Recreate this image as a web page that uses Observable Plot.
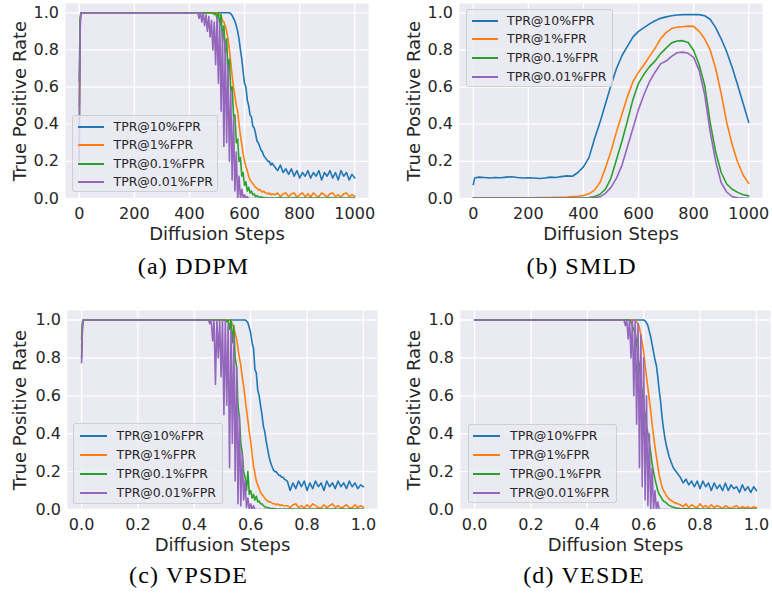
<!DOCTYPE html>
<html><head><meta charset="utf-8">
<script src="https://cdn.jsdelivr.net/npm/d3@7"></script>
<script src="https://cdn.jsdelivr.net/npm/@observablehq/plot@0.6"></script>
<style>
html,body{margin:0;padding:0;background:#fff;}
#root{position:relative;width:772px;height:595px;overflow:hidden;font-family:"DejaVu Sans",sans-serif;}
.legend{position:absolute;box-sizing:border-box;border:1px solid rgba(204,204,204,0.9);border-radius:3px;background:rgba(234,234,242,0.8);font:12.5px "DejaVu Sans",sans-serif;color:#262626;}
.legend .sw{position:absolute;height:2px;}
.legend .tx{position:absolute;height:18px;line-height:18px;white-space:nowrap;}
.caption{position:absolute;font-family:"Liberation Serif",serif;font-size:24px;letter-spacing:1.2px;color:#000;white-space:nowrap;transform:translateX(-50%);line-height:24px;}
</style></head><body><div id="root"></div><script>
// ---------- shared labels ----------
const seriesNames = ["TPR@10%FPR", "TPR@1%FPR", "TPR@0.1%FPR", "TPR@0.01%FPR"];
const seriesColors = ["#1f77b4", "#ff7f0e", "#2ca02c", "#9467bd"];
const yTicks = [0, 0.2, 0.4, 0.6, 0.8, 1.0];
const stepTicks = [0, 200, 400, 600, 800, 1000];
const tTicks = [0, 0.2, 0.4, 0.6, 0.8, 1.0];
const xLabel = "Diffusion Steps";
const yLabel = "True Positive Rate";
const captions = ["(a) DDPM", "(b) SMLD", "(c) VPSDE", "(d) VESDE"];

// ---------- (a) DDPM ----------
const ddpmSteps = [0,3,6,50,100,150,200,250,300,350,400,420,
430,435,440,445,450,455,460,465,470,475,
480,485,490,495,500,505,510,515,520,525,
530,535,540,545,550,555,560,565,570,575,
580,585,590,595,600,605,610,615,620,625,
630,635,640,645,650,655,660,665,670,675,
680,685,690,695,700,
710,720,730,740,750,760,770,780,790,800,
810,820,830,840,850,860,870,880,890,900,
910,920,930,940,950,960,970,980,990,1000];
const ddpm10 = [.63,.97,1,1,1,1,1,1,1,1,1,1,
1,1,1,1,1,1,1,1,1,1,
1,1,1,1,1,1,1,1,1,1,
1,1,1,1,.995,.985,.97,.955,.93,.9,
.86,.8,.75,.68,.62,.6,.53,.5,.45,.44,
.39,.38,.35,.31,.3,.28,.26,.25,.23,.22,
.21,.2,.2,.18,.19,
.17,.15,.18,.14,.16,.13,.16,.12,.15,.11,
.14,.12,.15,.11,.14,.12,.15,.1,.14,.12,
.15,.11,.14,.1,.15,.12,.14,.1,.13,.11];
const ddpm1 = [.5,.96,1,1,1,1,1,1,1,1,1,1,
1,1,1,1,1,1,1,1,1,1,
1,1,1,1,1,1,.99,.98,.96,.95,
.93,.9,.86,.8,.73,.66,.6,.55,.5,.47,
.4,.34,.29,.24,.2,.17,.15,.12,.1,.09,
.08,.07,.06,.055,.045,.05,.04,.035,.04,.03,
.03,.025,.03,.02,.025,
.02,.03,.01,.025,.03,.01,.025,.03,.008,.02,
.03,.01,.025,.008,.03,.015,.01,.03,.02,.008,
.025,.03,.01,.02,.008,.025,.03,.01,.02,.012];
const ddpm01 = [.4,.95,1,1,1,1,1,1,1,1,1,1,
1,1,1,1,1,1,1,1,1,1,
1,1,.99,1,.97,1,.93,.99,.85,.93,
.78,.86,.68,.75,.58,.6,.44,.45,.3,.32,
.2,.22,.12,.14,.07,.09,.04,.06,.03,.04,
.02,.025,.01,.015,.01,.005,.01,.005,.005,.003,
.004,.002,.003,.002,.002,
.003,.002,.004,.002,.003,.002,.003,.004,.002,.003,
.002,.003,.002,.004,.002,.003,.002,.003,.002,.003,
.004,.002,.003,.002,.003,.002,.003,.002,.003,.002];
const ddpm001 = [.2,.9,1,1,1,1,1,1,1,1,1,1,
1,.97,1,.95,1,.93,.99,.9,.98,.87,
.96,.8,.95,.72,.98,.62,.95,.47,.9,.28,
.85,.3,.72,.2,.58,.1,.44,.04,.25,0,
.12,0,.05,0,.02,0,.01,0,0,0,
0,0,0,0,0,0,0,0,0,0,
0,0,0,0,0,
0,0,0,0,0,0,0,0,0,0,
0,0,0,0,0,0,0,0,0,0,
0,0,0,0,0,0,0,0,0,0];

// ---------- (b) SMLD ----------
const smldSteps = [0,5,
20,40,60,80,100,120,140,160,180,200,
220,240,260,280,300,320,340,360,380,400,
420,440,460,480,500,520,540,560,580,600,
620,640,660,680,700,720,740,760,780,800,
820,840,860,880,900,920,940,960,980,1000];
const smld10 = [.075,.11,
.115,.113,.11,.113,.112,.115,.117,.113,.11,.112,
.11,.108,.11,.115,.113,.118,.122,.12,.14,.17,
.22,.32,.41,.51,.61,.7,.77,.82,.87,.9,
.92,.94,.957,.97,.978,.984,.988,.99,.99,.991,
.99,.984,.965,.92,.86,.79,.705,.61,.51,.41];
const smld1 = [.004,.004,
.004,.004,.004,.004,.004,.004,.004,.004,.004,.004,
.004,.005,.005,.005,.006,.007,.008,.01,.012,.016,
.025,.045,.086,.165,.255,.36,.455,.55,.63,.68,
.72,.765,.81,.86,.893,.915,.922,.925,.928,.927,
.9,.86,.8,.7,.565,.41,.29,.195,.125,.081];
const smld01 = [.002,.002,
.002,.002,.002,.002,.002,.002,.002,.002,.002,.002,
.002,.002,.002,.002,.002,.002,.002,.002,.002,.003,
.005,.01,.023,.05,.11,.21,.31,.42,.535,.62,
.67,.71,.74,.78,.81,.838,.848,.85,.84,.797,
.72,.61,.41,.25,.14,.078,.05,.033,.02,.014];
const smld001 = [.001,.001,
.001,.001,.001,.001,.001,.001,.001,.001,.001,.001,
.001,.001,.001,.001,.001,.001,.001,.001,.001,.001,
.001,.004,.009,.028,.06,.11,.18,.28,.38,.48,
.56,.63,.68,.725,.74,.765,.785,.788,.782,.76,
.69,.56,.36,.2,.085,.035,.01,.004,.002,.001];

// ---------- (c) VPSDE and (d) VESDE share the sampling grid ----------
const sdeT = [0,.003,.006,.05,.1,.15,.2,.25,.3,.35,.4,.42,
.43,.435,.44,.445,.45,.455,.46,.465,.47,.475,
.48,.485,.49,.495,.5,.505,.51,.515,.52,.525,
.53,.535,.54,.545,.55,.555,.56,.565,.57,.575,
.58,.585,.59,.595,.6,.605,.61,.615,.62,.625,
.63,.635,.64,.645,.65,.655,.66,.665,.67,.675,
.68,.685,.69,.695,.7,.705,.71,.715,.72,
.73,.74,.75,.76,.77,.78,.79,.8,.81,.82,
.83,.84,.85,.86,.87,.88,.89,.9,.91,.92,
.93,.94,.95,.96,.97,.98,.99,1];
const vpsde10 = [.9,.99,1,1,1,1,1,1,1,1,1,1,
1,1,1,1,1,1,1,1,1,1,
1,1,1,1,1,1,1,1,1,1,
1,1,1,1,1,1,1,1,1,1,
1,.995,.985,.96,.93,.88,.85,.74,.72,.63,
.6,.55,.5,.44,.41,.36,.32,.28,.25,.23,
.21,.2,.2,.19,.18,.18,.17,.17,.16,
.15,.1,.14,.11,.15,.12,.15,.1,.14,.11,
.15,.12,.14,.1,.15,.12,.14,.11,.15,.12,
.14,.11,.15,.12,.14,.11,.13,.12];
const vpsde1 = [.85,.98,1,1,1,1,1,1,1,1,1,1,
1,1,1,1,1,1,1,1,1,1,
1,1,1,1,1,1,1,1,1,1,
.995,.98,.96,.93,.9,.85,.8,.76,.7,.65,
.59,.53,.47,.41,.36,.29,.23,.19,.15,.13,
.11,.09,.08,.07,.06,.05,.045,.04,.04,.035,
.03,.03,.025,.03,.025,.02,.025,.02,.02,
.02,.01,.025,.03,.01,.02,.008,.025,.01,.03,
.02,.01,.008,.025,.01,.02,.03,.01,.02,.008,
.015,.025,.01,.008,.025,.01,.02,.012];
const vpsde01 = [.8,.97,1,1,1,1,1,1,1,1,1,1,
1,1,1,1,1,1,1,1,1,1,
1,1,1,1,1,1,1,.99,1,.95,
1,.88,.97,.8,.75,.55,.48,.35,.3,.2,
.17,.1,.2,.08,.1,.06,.08,.05,.07,.04,
.045,.03,.03,.02,.015,.012,.01,.008,.006,.005,
.005,.004,.003,.003,.002,.002,.002,.002,.002,
.002,.003,.002,.001,.002,.003,.002,.002,.001,.002,
.003,.002,.002,.001,.002,.002,.003,.002,.001,.002,
.002,.001,.002,.002,.003,.002,.001,.002];
const vpsde001 = [.775,.95,1,1,1,1,1,1,1,1,1,1,
1,1,1,1,1,.98,1,.89,1,.66,
1,.8,1,.7,1,.5,1,.55,.98,.22,
.95,.35,.92,.15,.75,.03,.5,.02,.3,.05,
.15,.01,.06,0,.03,0,.02,0,0,0,
0,0,0,0,0,0,0,0,0,0,
0,0,0,0,0,0,0,0,0,
0,0,0,0,0,0,0,0,0,0,
0,0,0,0,0,0,0,0,0,0,
0,0,0,0,0,0,0,0];
const vesde10 = [1,1,1,1,1,1,1,1,1,1,1,1,
1,1,1,1,1,1,1,1,1,1,
1,1,1,1,1,1,1,1,1,1,
1,1,1,1,1,1,1,1,1,1,
1,1,1,1,1,.995,.985,.97,.94,.91,
.87,.83,.79,.76,.7,.63,.57,.49,.43,.38,
.34,.31,.28,.26,.24,.22,.21,.2,.19,
.17,.14,.16,.13,.15,.12,.15,.11,.15,.12,
.14,.1,.14,.11,.13,.1,.14,.1,.13,.11,
.12,.09,.13,.1,.12,.09,.12,.1];
const vesde1 = [1,1,1,1,1,1,1,1,1,1,1,1,
1,1,1,1,1,1,1,1,1,1,
1,1,1,1,1,1,1,1,1,1,
1,1,1,1,1,1,1,1,1,.99,
.98,.96,.92,.88,.83,.76,.7,.64,.58,.52,
.45,.39,.33,.28,.23,.18,.15,.12,.1,.09,
.075,.065,.055,.05,.045,.04,.035,.035,.03,
.025,.015,.03,.01,.025,.015,.01,.03,.012,.02,
.008,.025,.01,.02,.015,.005,.02,.012,.005,.015,
.02,.005,.015,.008,.015,.005,.015,.01];
const vesde01 = [1,1,1,1,1,1,1,1,1,1,1,1,
1,1,1,1,1,1,1,1,1,1,
1,1,1,1,1,1,1,1,1,1,
1,1,1,1,1,.99,.97,.95,.93,.88,
.8,.76,.66,.62,.55,.5,.44,.4,.35,.3,
.24,.2,.16,.13,.1,.08,.07,.055,.045,.04,
.035,.028,.022,.018,.015,.012,.01,.008,.007,
.005,.004,.005,.003,.004,.003,.004,.003,.002,.003,
.002,.003,.002,.003,.002,.002,.003,.002,.002,.003,
.002,.002,.002,.003,.002,.002,.002,.002];
const vesde001 = [1,1,1,1,1,1,1,1,1,1,1,1,
1,1,1,1,1,1,1,1,1,1,
1,1,1,1,1,1,1,1,1,1,
1,.97,1,.9,1,.8,1,.6,1,.45,
.98,.22,.92,.12,.8,.05,.6,.02,.4,0,
.22,0,.1,0,.04,0,0,0,0,0,
0,0,0,0,0,0,0,0,0,
0,0,0,0,0,0,0,0,0,0,
0,0,0,0,0,0,0,0,0,0,
0,0,0,0,0,0,0,0];

// ---------- drawing ----------
const root = document.getElementById("root");
const f1 = d3.format(".1f");

function drawPanel(cfg) {
  const rows = [];
  cfg.series.forEach((vals, k) => vals.forEach((v, i) => rows.push({x: cfg.xs[i], y: v, s: seriesNames[k]})));
  const chart = Plot.plot({
    width: cfg.width, height: cfg.height,
    marginLeft: cfg.mL, marginRight: cfg.mR, marginTop: cfg.mT, marginBottom: cfg.mB,
    style: {fontFamily: '"DejaVu Sans", sans-serif', background: "transparent", color: "#262626", overflow: "visible"},
    x: {domain: cfg.xDomain},
    y: {domain: [0, 1.05]},
    color: {domain: seriesNames, range: seriesColors},
    marks: [
      Plot.frame({fill: "#eaeaf2", stroke: "none"}),
      Plot.gridX(cfg.xTicks, {stroke: "#ffffff", strokeOpacity: 1, strokeWidth: 1.3}),
      Plot.gridY(yTicks, {stroke: "#ffffff", strokeOpacity: 1, strokeWidth: 1.3}),
      Plot.line(rows, {x: "x", y: "y", z: "s", stroke: "s", strokeWidth: 1.6, clip: true}),
      Plot.axisX(cfg.xTicks, {tickFormat: cfg.xFmt, tickSize: 0, tickPadding: 9, fontSize: 16, label: null}),
      Plot.axisY(yTicks, {tickFormat: f1, tickSize: 0, tickPadding: 6.5, fontSize: 16, label: null}),
      Plot.text([xLabel], {text: d => d, frameAnchor: "bottom", textAnchor: "middle", lineAnchor: "bottom", dy: 41, fontSize: 18, fill: "#262626"}),
      Plot.text([yLabel], {text: d => d, frameAnchor: "left", textAnchor: "middle", lineAnchor: "bottom", rotate: -90, dx: cfg.ylDx, fontSize: 18, fill: "#262626"})
    ]
  });
  chart.style.position = "absolute";
  chart.style.left = cfg.left + "px";
  chart.style.top = cfg.top + "px";
  root.appendChild(chart);

  // legend (overlay inside the axes)
  const L = cfg.legend;
  const box = document.createElement("div");
  box.className = "legend";
  Object.assign(box.style, {left: L.x + "px", top: L.y + "px", width: L.w + "px", height: L.h + "px"});
  seriesNames.forEach((name, i) => {
    const cy = L.first + i * L.step;
    const sw = document.createElement("div");
    sw.className = "sw";
    Object.assign(sw.style, {left: L.sx + "px", width: L.sw + "px", top: (cy - 1) + "px", background: seriesColors[i]});
    const tx = document.createElement("div");
    tx.className = "tx";
    tx.textContent = name;
    Object.assign(tx.style, {left: L.tx + "px", top: (cy - 9) + "px"});
    box.appendChild(sw); box.appendChild(tx);
  });
  root.appendChild(box);

  const cap = document.createElement("div");
  cap.className = "caption";
  cap.textContent = cfg.caption;
  cap.style.left = cfg.capX + "px";
  cap.style.top = (cfg.capBase - 20) + "px";
  root.appendChild(cap);
}

drawPanel({xs: ddpmSteps, series: [ddpm10, ddpm1, ddpm01, ddpm001], xDomain: [-50, 1050], xTicks: stepTicks, xFmt: d3.format("d"),
  left: 0, top: 0, width: 386, height: 250, mL: 65, mR: 18, mT: 3, mB: 52, ylDx: -40,
  legend: {x: 72, y: 115, w: 146, h: 77, first: 10.5, step: 18.5, sx: 4.5, sw: 26, tx: 40.5},
  caption: captions[0], capX: 193.5, capBase: 274});
drawPanel({xs: smldSteps, series: [smld10, smld1, smld01, smld001], xDomain: [-50, 1050], xTicks: stepTicks, xFmt: d3.format("d"),
  left: 386, top: 0, width: 386, height: 250, mL: 73, mR: 10, mT: 3, mB: 52, ylDx: -40,
  legend: {x: 466, y: 9, w: 147, h: 78, first: 10.5, step: 18.8, sx: 5, sw: 26, tx: 40},
  caption: captions[1], capX: 581.7, capBase: 274});
drawPanel({xs: sdeT, series: [vpsde10, vpsde1, vpsde01, vpsde001], xDomain: [-0.05, 1.05], xTicks: tTicks, xFmt: f1,
  left: 0, top: 300, width: 386, height: 260, mL: 67, mR: 9, mT: 10, mB: 51, ylDx: -42,
  legend: {x: 73, y: 423, w: 150, h: 81, first: 11.5, step: 19.1, sx: 5.5, sw: 27, tx: 42.5},
  caption: captions[2], capX: 188.5, capBase: 583});
drawPanel({xs: sdeT, series: [vesde10, vesde1, vesde01, vesde001], xDomain: [-0.05, 1.05], xTicks: tTicks, xFmt: f1,
  left: 386, top: 300, width: 386, height: 260, mL: 74, mR: 2, mT: 10, mB: 51, ylDx: -41,
  legend: {x: 467.5, y: 424, w: 149, h: 79, first: 11, step: 19.1, sx: 4.5, sw: 27, tx: 41.5},
  caption: captions[3], capX: 584, capBase: 583});
</script></body></html>
